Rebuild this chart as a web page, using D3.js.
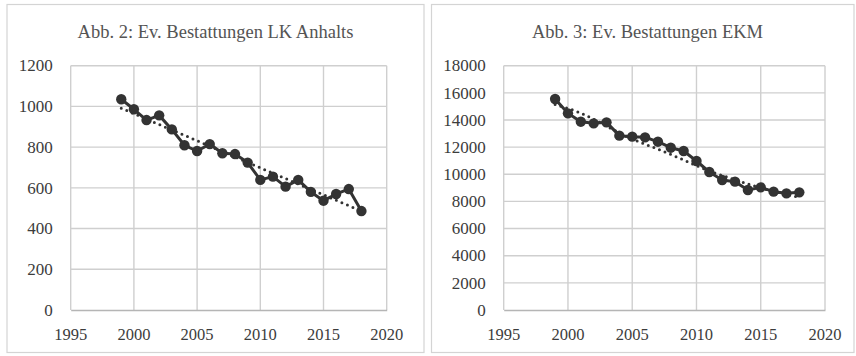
<!DOCTYPE html>
<html>
<head>
<meta charset="utf-8">
<script src="https://cdn.jsdelivr.net/npm/d3@7"></script>
<style>
  html, body { margin: 0; padding: 0; background: #fff; }
  svg { display: block; }
</style>
</head>
<body>
<svg id="chart" width="856" height="356"></svg>
<script>
// ---- data ----
const years = [1999,2000,2001,2002,2003,2004,2005,2006,2007,2008,2009,2010,2011,2012,2013,2014,2015,2016,2017,2018];
const anhaltValues = [1035,986,933,956,887,809,781,815,770,766,724,639,655,606,639,580,537,570,594,486];
const ekmValues = [15546,14490,13875,13754,13827,12845,12771,12722,12402,11960,11715,10978,10168,9578,9455,8842,9037,8719,8596,8670];
// trend lines (year, value)
const anhaltTrendYears = [1999, 2018];
const anhaltTrendValues = [991, 486];
const ekmTrendYears = [1999, 2001, 2003, 2005, 2007, 2009, 2011, 2013, 2015, 2017, 2018];
const ekmTrendValues = [15150, 14500, 13550, 12600, 11850, 11050, 10250, 9600, 9000, 8500, 8330];
const xTicks = [1995, 2000, 2005, 2010, 2015, 2020];
const anhaltYTicks = [0, 200, 400, 600, 800, 1000, 1200];
const ekmYTicks = [0, 2000, 4000, 6000, 8000, 10000, 12000, 14000, 16000, 18000];
const titles = ["Abb. 2: Ev. Bestattungen LK Anhalts", "Abb. 3: Ev. Bestattungen EKM"];

const FONT = "Liberation Serif, Times New Roman, serif";
const svg = d3.select("#chart");

function panel(cfg) {
  const g = svg.append("g");
  // outer frame
  g.append("rect")
    .attr("x", cfg.frame[0] + 0.5).attr("y", cfg.frame[1] + 0.5)
    .attr("width", cfg.frame[2]).attr("height", cfg.frame[3])
    .attr("fill", "#fff").attr("stroke", "#d4d4d4").attr("stroke-width", 1.2);

  // title
  g.append("text")
    .attr("x", cfg.titleX).attr("y", 37.5)
    .attr("text-anchor", "middle")
    .attr("font-family", FONT)
    .attr("font-size", 18.5)
    .attr("fill", "#545454")
    .text(cfg.title);

  const x = d3.scaleLinear().domain([1995, 2020]).range([cfg.left, cfg.right]);
  const y = d3.scaleLinear().domain([0, cfg.yMax]).range([310, 65.7]);

  // gridlines
  g.append("g").selectAll("line").data(cfg.yTicks.filter(d => d > 0)).join("line")
    .attr("x1", x(1995)).attr("x2", x(2020))
    .attr("y1", d => y(d)).attr("y2", d => y(d))
    .attr("stroke", "#cfcfcf").attr("stroke-width", 1.4);
  g.append("g").selectAll("line").data(xTicks).join("line")
    .attr("x1", d => x(d)).attr("x2", d => x(d))
    .attr("y1", y(0)).attr("y2", y(cfg.yMax))
    .attr("stroke", "#cfcfcf").attr("stroke-width", 1.4);

  // axes: lines via d3.axis, labels placed via the same scales
  const ya = g.append("g").attr("transform", `translate(${cfg.left},0)`)
    .call(d3.axisLeft(y).tickValues(cfg.yTicks).tickSize(0).tickFormat(""));
  ya.select(".domain").remove();
  g.append("g").selectAll("text").data(cfg.yTicks).join("text")
    .attr("x", cfg.left - 18).attr("y", d => y(d))
    .attr("dy", "0.34em")
    .attr("text-anchor", "end")
    .attr("font-family", FONT).attr("font-size", 17)
    .attr("fill", "#3c3c3c")
    .text(d => d3.format("d")(d));

  const xa = g.append("g").attr("transform", `translate(0,310)`)
    .call(d3.axisBottom(x).tickValues(xTicks).tickSize(0).tickFormat(""));
  xa.select(".domain").attr("stroke", "#b5b5b5").attr("stroke-width", 1.6);
  g.append("g").selectAll("text").data(xTicks).join("text")
    .attr("x", d => x(d)).attr("y", 340)
    .attr("text-anchor", "middle")
    .attr("font-family", FONT).attr("font-size", 16.5)
    .attr("fill", "#3c3c3c")
    .text(d => d3.format("d")(d));

  // trend line
  const trendPts = cfg.trendYears.map((yr, i) => [yr, cfg.trendValues[i]]);
  g.append("path")
    .datum(trendPts)
    .attr("fill", "none")
    .attr("stroke", "#333")
    .attr("stroke-width", 3)
    .attr("stroke-linecap", "round")
    .attr("stroke-dasharray", "0 6")
    .attr("d", d3.line().x(d => x(d[0])).y(d => y(d[1])).curve(d3.curveNatural));

  // data line
  const pts = years.map((yr, i) => [yr, cfg.values[i]]);
  g.append("path")
    .datum(pts)
    .attr("fill", "none")
    .attr("stroke", "#333")
    .attr("stroke-width", 3)
    .attr("stroke-linejoin", "round")
    .attr("d", d3.line().x(d => x(d[0])).y(d => y(d[1])));
  g.append("g").selectAll("circle").data(pts).join("circle")
    .attr("cx", d => x(d[0])).attr("cy", d => y(d[1]))
    .attr("r", 5.2).attr("fill", "#333");
}

panel({
  frame: [6.5, 4, 417, 348], title: titles[0], titleX: 215.5,
  left: 70.7, right: 386.7, yMax: 1200, yTicks: anhaltYTicks,
  values: anhaltValues, trendYears: anhaltTrendYears, trendValues: anhaltTrendValues
});
panel({
  frame: [431, 4, 422.5, 348], title: titles[1], titleX: 647.5,
  left: 503.7, right: 825, yMax: 18000, yTicks: ekmYTicks,
  values: ekmValues, trendYears: ekmTrendYears, trendValues: ekmTrendValues
});
</script>
</body>
</html>
